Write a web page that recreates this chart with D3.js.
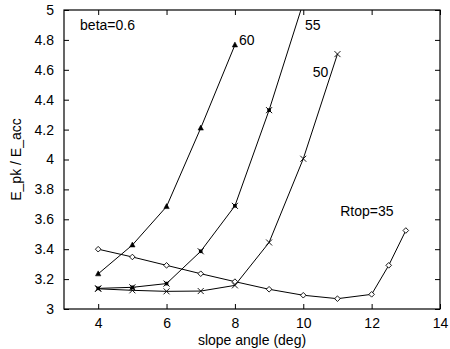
<!DOCTYPE html>
<html><head><meta charset="utf-8">
<script src="https://cdn.jsdelivr.net/npm/d3@7/dist/d3.min.js"></script>
<style>body{margin:0;background:#fff}svg{display:block}text{font-family:"Liberation Sans",Arial,sans-serif}</style>
</head><body><svg id="c" width="450" height="349"></svg>
<script>
const xTicks = [4, 6, 8, 10, 12, 14];
const yTicks = [3, 3.2, 3.4, 3.6, 3.8, 4, 4.2, 4.4, 4.6, 4.8, 5];
const xR60 = [4, 5, 6, 7, 8];
const yR60 = [3.235, 3.428, 3.685, 4.21, 4.766];
const xR55 = [4, 5, 6, 7, 8, 9, 10];
const yR55 = [3.138, 3.145, 3.17, 3.386, 3.69, 4.33, 5.05];
const xR50 = [4, 5, 6, 7, 8, 9, 10, 11];
const yR50 = [3.135, 3.125, 3.118, 3.12, 3.158, 3.445, 4.005, 4.705];
const xR35 = [4, 5, 6, 7, 8, 9, 10, 11, 12, 12.5, 13];
const yR35 = [3.40, 3.348, 3.292, 3.236, 3.183, 3.132, 3.092, 3.069, 3.098, 3.292, 3.525];
const labels = [
  {t: "beta=0.6", x: 3.47, y: 4.866, a: "start"},
  {t: "60", x: 8.12, y: 4.766, a: "start"},
  {t: "55", x: 10.05, y: 4.866, a: "start"},
  {t: "50", x: 10.28, y: 4.55, a: "start"},
  {t: "Rtop=35", x: 11.08, y: 3.625, a: "start"}
];

const svg = d3.select("#c");
const L = 64, R = 440, T = 10, B = 309;
const x = d3.scaleLinear().domain([3, 14]).range([L, R]);
const y = d3.scaleLinear().domain([3, 5]).range([B, T]);
const fs = 14;

svg.append("defs").append("clipPath").attr("id", "clip")
  .append("rect").attr("x", L).attr("y", T).attr("width", R - L).attr("height", B - T);

const tk = 5;
svg.append("g").attr("transform", `translate(0,${B})`)
  .call(d3.axisBottom(x).tickValues(xTicks).tickSizeInner(-tk).tickSizeOuter(0).tickPadding(9).tickFormat(d3.format("d")))
  .call(g => g.select(".domain").remove());
svg.append("g").attr("transform", `translate(0,${T})`)
  .call(d3.axisTop(x).tickValues(xTicks).tickSizeInner(-tk).tickSizeOuter(0).tickFormat(""))
  .call(g => g.select(".domain").remove());
svg.append("g").attr("transform", `translate(${L},0)`)
  .call(d3.axisLeft(y).tickValues(yTicks).tickSizeInner(-tk).tickSizeOuter(0).tickPadding(10).tickFormat(d => d3.format("")(+d.toFixed(1))))
  .call(g => g.select(".domain").remove());
svg.append("g").attr("transform", `translate(${R},0)`)
  .call(d3.axisRight(y).tickValues(yTicks).tickSizeInner(-tk).tickSizeOuter(0).tickFormat(""))
  .call(g => g.select(".domain").remove());
svg.selectAll(".tick text").attr("font-size", fs).attr("fill", "#000").attr("font-family", '"Liberation Sans",Arial,sans-serif');
svg.selectAll(".tick line").attr("stroke", "#000");

svg.append("rect").attr("x", L).attr("y", T).attr("width", R - L).attr("height", B - T)
  .attr("fill", "none").attr("stroke", "#000").attr("stroke-width", 1.2);

const line = d3.line().x(d => x(d[0])).y(d => y(d[1]));
const series = [
  {xs: xR60, ys: yR60, m: "tri"},
  {xs: xR55, ys: yR55, m: "boxx"},
  {xs: xR50, ys: yR50, m: "x"},
  {xs: xR35, ys: yR35, m: "dia"}
];
const plot = svg.append("g").attr("clip-path", "url(#clip)");
series.forEach(s => {
  const pts = s.xs.map((v, i) => [v, s.ys[i]]);
  plot.append("path").attr("d", line(pts)).attr("fill", "none").attr("stroke", "#000").attr("stroke-width", 1);
  pts.forEach(p => {
    const cx = x(p[0]), cy = y(p[1]);
    const g = plot.append("g").attr("transform", `translate(${cx},${cy})`);
    if (s.m === "tri") {
      g.append("path").attr("d", "M0,-3L2.7,2L-2.7,2Z").attr("fill", "#000").attr("stroke", "#000").attr("stroke-width", 0.5);
    } else if (s.m === "boxx") {
      g.append("path").attr("d", "M-3,-3L3,3M-3,3L3,-3").attr("stroke", "#000").attr("stroke-width", 1);
      g.append("rect").attr("x", -1.8).attr("y", -1.8).attr("width", 3.6).attr("height", 3.6).attr("fill", "#000");
    } else if (s.m === "x") {
      g.append("path").attr("d", "M-3,-3L3,3M-3,3L3,-3").attr("stroke", "#000").attr("stroke-width", 0.9);
    } else {
      g.append("path").attr("d", "M0,-2.8L2.8,0L0,2.8L-2.8,0Z").attr("fill", "#fff").attr("stroke", "#000").attr("stroke-width", 0.9);
    }
  });
});

labels.forEach(l => {
  svg.append("text").attr("x", x(l.x)).attr("y", y(l.y)).attr("text-anchor", l.a)
    .attr("font-size", fs).attr("fill", "#000").text(l.t);
});

svg.append("text").attr("x", (L + R) / 2).attr("y", 345).attr("text-anchor", "middle")
  .attr("font-size", fs).text("slope angle (deg)");
svg.append("text").attr("transform", `translate(21,${(T + B) / 2}) rotate(-90)`).attr("text-anchor", "middle")
  .attr("font-size", fs).text("E_pk / E_acc");
</script></body></html>
